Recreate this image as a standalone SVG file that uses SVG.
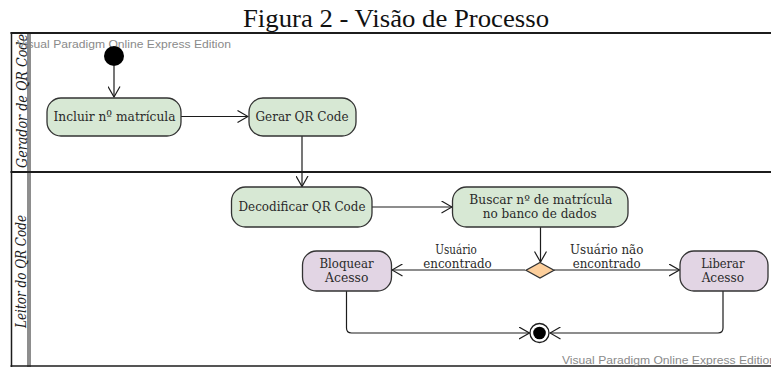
<svg xmlns="http://www.w3.org/2000/svg" width="771" height="367" viewBox="0 0 771 367">
  <style>
    .frame { stroke: #1c1c1c; fill: none; }
    .node { stroke: #333333; stroke-width: 1.3; }
    .act { fill: #d7e8d4; }
    .end { fill: #e2d5e4; }
    .title { font-family: "Liberation Serif", "Times New Roman", serif; font-size: 25px; fill: #111; }
    .lbl { font-family: "DejaVu Serif", "Liberation Serif", serif; font-size: 13.5px; fill: #2a2a2a; text-anchor: middle; }
    .two { font-size: 12px; }
    .lane { font-family: "DejaVu Serif", "Liberation Serif", serif; font-style: italic; font-size: 14.5px; fill: #1c1c1c; text-anchor: middle; }
    .wm { font-family: "Liberation Sans", Arial, sans-serif; font-size: 11px; fill: #8a8a8a; }
    .conn { stroke: #1c1c1c; stroke-width: 1.2; fill: none; }
  </style>
  <defs>
    <marker id="open" viewBox="0 0 12 13" refX="11" refY="6.5" markerWidth="12" markerHeight="13" markerUnits="userSpaceOnUse" orient="auto">
      <path d="M0.5,0.5 L11,6.5 L0.5,12.5" fill="none" stroke="#1c1c1c" stroke-width="1.2"/>
    </marker>
  </defs>

  <rect width="771" height="367" fill="#ffffff"/>

  <!-- caption -->
  <text class="title" x="243" y="27" textLength="306" lengthAdjust="spacingAndGlyphs">Figura 2 - Visão de Processo</text>

  <!-- swimlane frame -->
  <g id="swimlanes">
    <line class="frame" x1="10.5" y1="33" x2="771" y2="33" stroke-width="2.2"/>
    <line class="frame" x1="10.5" y1="172" x2="771" y2="172" stroke-width="2"/>
    <line class="frame" x1="10.5" y1="366" x2="771" y2="366" stroke-width="1.3" stroke="#555"/>
    <line class="frame" x1="11.5" y1="32" x2="11.5" y2="367" stroke-width="1.5"/>
    <line class="frame" x1="28" y1="32" x2="28" y2="367" stroke-width="1"/>
    <line class="frame" x1="30" y1="32" x2="30" y2="367" stroke-width="1"/>
    <text class="lane" transform="translate(26.5,101) rotate(-90)" textLength="134" lengthAdjust="spacingAndGlyphs">Gerador de QR Code</text>
    <text class="lane" transform="translate(25.5,271.5) rotate(-90)" textLength="113" lengthAdjust="spacingAndGlyphs">Leitor do QR Code</text>
  </g>

  <!-- edition watermark -->
  <text class="wm" x="17" y="47.5" textLength="214" lengthAdjust="spacingAndGlyphs">Visual Paradigm Online Express Edition</text>
  <text class="wm" x="562" y="363.5" textLength="214" lengthAdjust="spacingAndGlyphs">Visual Paradigm Online Express Edition</text>

  <!-- connectors -->
  <g id="connectors">
    <line class="conn" x1="114" y1="66" x2="114" y2="97" marker-end="url(#open)"/>
    <line class="conn" x1="181" y1="116.5" x2="248" y2="116.5" marker-end="url(#open)"/>
    <line class="conn" x1="302" y1="136" x2="302" y2="186.5" marker-end="url(#open)"/>
    <line class="conn" x1="372" y1="207" x2="452" y2="207" marker-end="url(#open)"/>
    <line class="conn" x1="540.5" y1="227" x2="540.5" y2="262" marker-end="url(#open)"/>
    <line class="conn" x1="525" y1="270" x2="392" y2="270" marker-end="url(#open)"/>
    <line class="conn" x1="554" y1="270" x2="679.5" y2="270" marker-end="url(#open)"/>
    <path class="conn" d="M346.5,291 V328 Q346.5,333 351.5,333 H529.5" marker-end="url(#open)"/>
    <path class="conn" d="M723,291 V328 Q723,333 718,333 H550" marker-end="url(#open)"/>
    <text class="lbl two" x="456" y="253.5" textLength="41.5" lengthAdjust="spacingAndGlyphs">Usuário</text>
    <text class="lbl two" x="457.5" y="267.5" textLength="68.5" lengthAdjust="spacingAndGlyphs">encontrado</text>
    <text class="lbl two" x="606.7" y="253.5" textLength="73.3" lengthAdjust="spacingAndGlyphs">Usuário não</text>
    <text class="lbl two" x="606.7" y="267.5" textLength="68" lengthAdjust="spacingAndGlyphs">encontrado</text>
  </g>

  <!-- nodes -->
  <g id="start">
    <circle cx="114" cy="56" r="10" fill="#000"/>
  </g>

  <g id="incluir-matricula">
    <rect class="node act" x="47" y="98" width="134" height="38" rx="14"/>
    <text class="lbl" x="114.5" y="121.3" textLength="122" lengthAdjust="spacingAndGlyphs">Incluir nº matrícula</text>
  </g>

  <g id="gerar-qr-code">
    <rect class="node act" x="249" y="98" width="107" height="38" rx="14"/>
    <text class="lbl" x="302" y="121.3" textLength="93" lengthAdjust="spacingAndGlyphs">Gerar QR Code</text>
  </g>

  <g id="decodificar-qr-code">
    <rect class="node act" x="231.5" y="187" width="140.5" height="40" rx="14"/>
    <text class="lbl" x="302" y="211.3" textLength="127" lengthAdjust="spacingAndGlyphs">Decodificar QR Code</text>
  </g>

  <g id="buscar-matricula">
    <rect class="node act" x="452.5" y="187" width="175.5" height="40" rx="14"/>
    <text class="lbl two" x="540.8" y="204" textLength="143" lengthAdjust="spacingAndGlyphs">Buscar nº de matrícula</text>
    <text class="lbl two" x="539.7" y="218" textLength="114" lengthAdjust="spacingAndGlyphs">no banco de dados</text>
  </g>

  <g id="decisao">
    <polygon class="node" points="540,262.5 554,270.2 540,278 526,270.2" fill="#fdcf9c"/>
  </g>

  <g id="bloquear-acesso">
    <rect class="node end" x="302.5" y="251" width="89" height="40" rx="14"/>
    <text class="lbl two" x="346.5" y="267.7" textLength="54" lengthAdjust="spacingAndGlyphs">Bloquear</text>
    <text class="lbl two" x="346.7" y="281.7" textLength="43.3" lengthAdjust="spacingAndGlyphs">Acesso</text>
  </g>

  <g id="liberar-acesso">
    <rect class="node end" x="680" y="251" width="88" height="40" rx="14"/>
    <text class="lbl two" x="722.8" y="267.7" textLength="43.3" lengthAdjust="spacingAndGlyphs">Liberar</text>
    <text class="lbl two" x="722.8" y="281.7" textLength="42.3" lengthAdjust="spacingAndGlyphs">Acesso</text>
  </g>

  <g id="fim">
    <circle cx="539.5" cy="333" r="9.5" fill="#fff" stroke="#1c1c1c" stroke-width="1.3"/>
    <circle cx="539.5" cy="333" r="6.3" fill="#000"/>
  </g>
</svg>
